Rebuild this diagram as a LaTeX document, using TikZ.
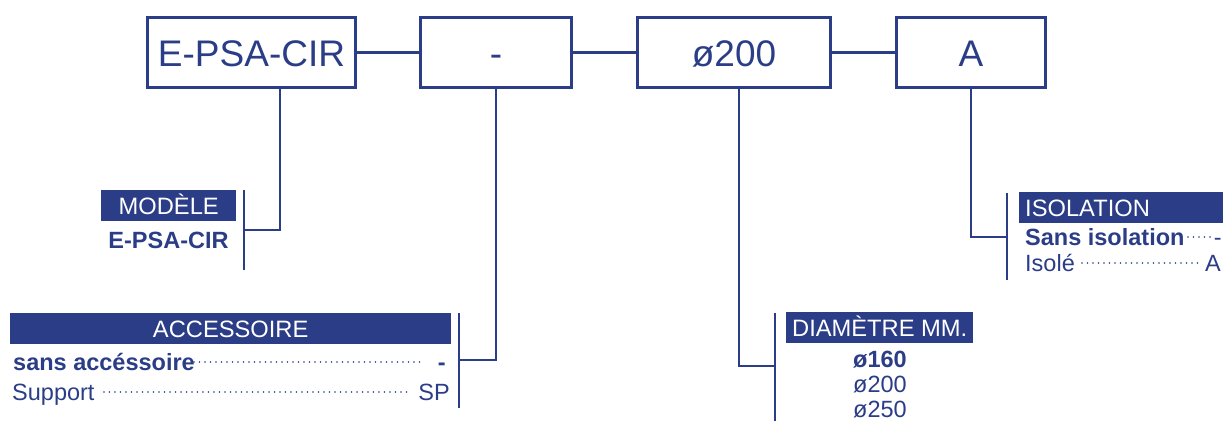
\documentclass[tikz,border=0pt]{standalone}
\usepackage{fontspec}
\setmainfont{Liberation Sans}
\definecolor{nb}{RGB}{42,61,134}
\begin{document}
\begin{tikzpicture}[x=1pt,y=-1pt,
  box/.style={draw=nb,line width=2.8pt,minimum height=70pt,inner sep=0pt,text=nb,
    text height=27pt,text depth=0pt,font=\fontsize{37}{40}\selectfont},
  link/.style={draw=nb,line width=2.8pt},
  lead/.style={draw=nb,line width=2pt},
  head/.style={fill=nb,text=white,inner sep=0pt,minimum height=31pt,text height=17pt,text depth=0pt,
    font=\fontsize{23.7}{26}\selectfont},
  txt/.style={text=nb,inner sep=0pt,font=\fontsize{23.5}{26}\selectfont},
  btxt/.style={text=nb,inner sep=0pt,font=\fontsize{23.5}{26}\selectfont\bfseries},
  dots/.style={draw=nb,line width=1.9pt,dash pattern=on 0pt off 5.5pt,line cap=round}]
\useasboundingbox (0,0) rectangle (1223,421);
% top boxes
\node[box,minimum width=208pt] (b1) at (251.5,52.5) {E-PSA-CIR};
\node[box,minimum width=151pt] (b2) at (496,52.5) {-};
\node[box,minimum width=193pt] (b3) at (734,52.5) {ø200};
\node[box,minimum width=149pt] (b4) at (971,52.5) {A};
\draw[link] (b1.east) -- (b2.west);
\draw[link] (b2.east) -- (b3.west);
\draw[link] (b3.east) -- (b4.west);
% bracket coordinates
\coordinate (k1) at (244,230);
\coordinate (k1a) at (244,190);
\coordinate (k1b) at (244,270);
\coordinate (k2) at (459,360);
\coordinate (k2a) at (459,313);
\coordinate (k2b) at (459,408);
\coordinate (k3) at (775,366);
\coordinate (k3a) at (775,313);
\coordinate (k3b) at (775,421);
\coordinate (k4) at (1007,237);
\coordinate (k4a) at (1007,193);
\coordinate (k4b) at (1007,280);
% leads
\draw[lead] ([xshift=28.5pt]b1.south) |- (k1);
\draw[lead] (k1a) -- (k1b);
\draw[lead] (b2.south) |- (k2);
\draw[lead] (k2a) -- (k2b);
\draw[lead] ([xshift=5pt]b3.south) |- (k3);
\draw[lead] (k3a) -- (k3b);
\draw[lead] (b4.south) |- (k4);
\draw[lead] (k4a) -- (k4b);
% MODELE
\node[head,anchor=north west,minimum width=135pt] (h1) at (101,190) {MODÈLE};
\node[btxt,anchor=base] (t1) at (168.5,248) {E-PSA-CIR};
% ACCESSOIRE
\node[head,anchor=north west,minimum width=441pt] (h2) at (10,313) {ACCESSOIRE};
\node[btxt,anchor=base west] (a1) at (13,370) {sans accéssoire};
\node[btxt,anchor=base east] (a1v) at (446,370) {-};
\coordinate (a1s) at (194,362);
\coordinate (a1e) at (421,362);
\draw[dots] (a1s) -- (a1e);
\node[txt,anchor=base west] (a2) at (12,400.7) {Support};
\node[txt,anchor=base east] (a2v) at (450,400.7) {SP};
\coordinate (a2s) at (104,392);
\coordinate (a2e) at (407,392);
\draw[dots] (a2s) -- (a2e);
% DIAMETRE
\node[head,anchor=north west,minimum width=187pt] (h3) at (786,312) {DIAMÈTRE MM.};
\node[btxt,anchor=base] (d1) at (880,367) {ø160};
\node[txt,anchor=base] (d2) at (880,392) {ø200};
\node[txt,anchor=base] (d3) at (880,417) {ø250};
% ISOLATION
\node[head,anchor=north west,minimum width=204pt,text width=192pt,align=left,inner xsep=6pt] (h4) at (1019,192) {ISOLATION};
\node[btxt,anchor=base west] (i1) at (1025,245) {Sans isolation};
\node[txt,anchor=base east] (i1v) at (1222,245) {-};
\coordinate (i1s) at (1188,237);
\coordinate (i1e) at (1210,237);
\draw[dots] (i1s) -- (i1e);
\node[txt,anchor=base west] (i2) at (1025,271) {Isolé};
\node[txt,anchor=base east] (i2v) at (1221,271) {A};
\coordinate (i2s) at (1082,263);
\coordinate (i2e) at (1198,263);
\draw[dots] (i2s) -- (i2e);
\end{tikzpicture}
\end{document}
